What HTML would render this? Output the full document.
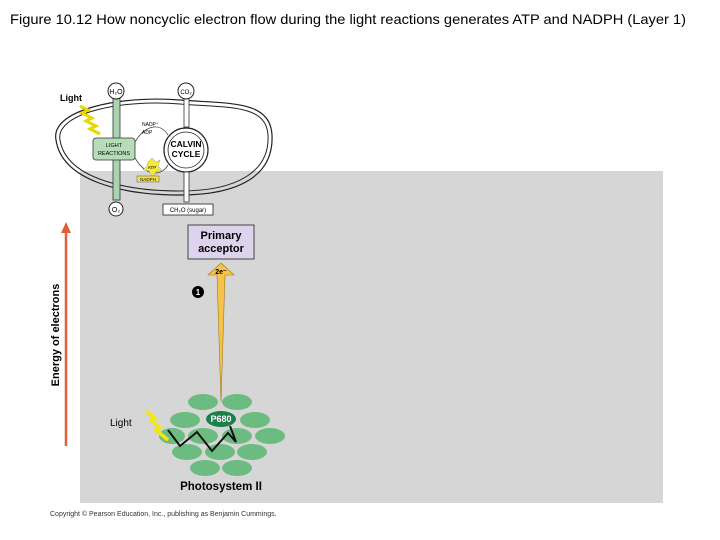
<!DOCTYPE html>
<html><head><meta charset="utf-8"><style>
html,body{margin:0;padding:0;background:#fff;}
svg{display:block;font-family:"Liberation Sans",sans-serif;}
</style></head><body>
<svg width="720" height="540" viewBox="0 0 720 540">
<text x="10" y="24" font-size="14" textLength="676" lengthAdjust="spacingAndGlyphs" fill="#000">Figure 10.12  How noncyclic electron flow during the light reactions generates ATP and NADPH (Layer 1)</text>
<rect x="80" y="171" width="583" height="332" fill="#d6d6d6"/>
<path d="M56,140 C50,110 120,95 180,100 C230,104 270,100 272,135 C274,175 240,195 180,195 C120,195 62,180 56,140 Z" fill="none" stroke="#222" stroke-width="1.2"/>
<path d="M60,140 C55,113 122,99 180,104 C228,108 266,104 268,135 C270,171 238,191 180,191 C122,191 66,177 60,140 Z" fill="none" stroke="#222" stroke-width="1"/>
<rect x="113" y="95" width="7" height="105" fill="#a8d5b0" stroke="#333" stroke-width="0.8"/>
<circle cx="116" cy="91" r="8" fill="#fff" stroke="#222"/>
<text x="116" y="94" font-size="7" text-anchor="middle">H₂O</text>
<circle cx="116" cy="209" r="7" fill="#fff" stroke="#222"/>
<text x="116" y="212" font-size="7" text-anchor="middle">O₂</text>
<rect x="93" y="138" width="42" height="22" rx="3" fill="#b6dcb8" stroke="#333" stroke-width="0.8"/>
<text x="114" y="147" font-size="5.5" text-anchor="middle">LIGHT</text>
<text x="114" y="155" font-size="5.5" text-anchor="middle">REACTIONS</text>
<text x="60" y="101" font-size="9" font-weight="bold">Light</text>
<polyline points="80,106 88,110 82,113 92,118 86,121 96,126 90,129 100,134" fill="none" stroke="#e8d800" stroke-width="3"/>
<circle cx="186" cy="150" r="22" fill="#fff" stroke="#222" stroke-width="1.2"/>
<circle cx="186" cy="150" r="18" fill="none" stroke="#222" stroke-width="0.8"/>
<text x="186" y="147" font-size="8.5" font-weight="bold" text-anchor="middle">CALVIN</text>
<text x="186" y="157" font-size="8.5" font-weight="bold" text-anchor="middle">CYCLE</text>
<rect x="184" y="97" width="5" height="30" fill="#fff" stroke="#333" stroke-width="0.8"/>
<rect x="184" y="172" width="5" height="30" fill="#fff" stroke="#333" stroke-width="0.8"/>
<circle cx="186" cy="91" r="8" fill="#fff" stroke="#222"/>
<text x="186" y="94" font-size="6" text-anchor="middle">CO₂</text>
<rect x="163" y="204" width="50" height="11" fill="#fff" stroke="#222" stroke-width="0.8"/>
<text x="188" y="212" font-size="6" text-anchor="middle">CH₂O (sugar)</text>
<path d="M135,142 C145,125 160,122 168,135" fill="none" stroke="#444" stroke-width="0.8"/>
<path d="M135,158 C145,175 160,178 168,165" fill="none" stroke="#444" stroke-width="0.8"/>
<text x="142" y="126" font-size="5">NADP⁺</text>
<text x="142" y="134" font-size="5">ADP</text>
<polygon points="148,162 152,158 156,162 160,160 158,166 162,170 156,172 152,177 149,171 143,170 147,166" fill="#f2ea3a" stroke="#999" stroke-width="0.5"/>
<text x="152" y="169" font-size="4.5" text-anchor="middle">ATP</text>
<rect x="137" y="176" width="22" height="6" fill="#f4e04a" stroke="#555" stroke-width="0.5"/>
<text x="148" y="181" font-size="4.5" text-anchor="middle">NADPH</text>
<line x1="66" y1="446" x2="66" y2="232" stroke="#e0603a" stroke-width="2.5"/>
<polygon points="61,233 71,233 66,222" fill="#e0603a"/>
<text transform="translate(59,335) rotate(-90)" font-size="11" font-weight="bold" text-anchor="middle">Energy of electrons</text>
<rect x="188" y="225" width="66" height="34" fill="#ddd3ec" stroke="#444" stroke-width="1"/>
<text x="221" y="239" font-size="11" font-weight="bold" text-anchor="middle">Primary</text>
<text x="221" y="252" font-size="11" font-weight="bold" text-anchor="middle">acceptor</text>
<polygon points="221,263 234,275 225,275 221,402 217,275 208,275" fill="#f6c24a" stroke="#a07a20" stroke-width="0.6"/>
<text x="221" y="274" font-size="7" font-weight="bold" text-anchor="middle">2e⁻</text>
<circle cx="198" cy="292" r="6" fill="#000"/>
<text x="198" y="295" font-size="8" font-weight="bold" fill="#fff" text-anchor="middle">1</text>
<g fill="#6cbc82">
<ellipse cx="203" cy="402" rx="15" ry="8"/><ellipse cx="237" cy="402" rx="15" ry="8"/>
<ellipse cx="185" cy="420" rx="15" ry="8"/><ellipse cx="255" cy="420" rx="15" ry="8"/>
<ellipse cx="172" cy="436" rx="13" ry="8"/><ellipse cx="203" cy="436" rx="15" ry="8"/><ellipse cx="237" cy="436" rx="15" ry="8"/><ellipse cx="270" cy="436" rx="15" ry="8"/>
<ellipse cx="187" cy="452" rx="15" ry="8"/><ellipse cx="220" cy="452" rx="15" ry="8"/><ellipse cx="252" cy="452" rx="15" ry="8"/>
<ellipse cx="205" cy="468" rx="15" ry="8"/><ellipse cx="237" cy="468" rx="15" ry="8"/>
</g>
<ellipse cx="221" cy="419" rx="15" ry="8" fill="#1e7f4a"/>
<text x="221" y="422" font-size="9" font-weight="bold" fill="#fff" text-anchor="middle">P680</text>
<polyline points="168,430 180,446 197,432 212,451 228,433 236,442 230,426" fill="none" stroke="#111" stroke-width="2"/>
<polyline points="146,411 155,418 151,420 160,428 156,430 168,440" fill="none" stroke="#f2e810" stroke-width="3.5"/>
<text x="110" y="426" font-size="10">Light</text>
<text x="221" y="490" font-size="11.5" font-weight="bold" text-anchor="middle">Photosystem II</text>
<text x="50" y="516" font-size="7" fill="#333">Copyright © Pearson Education, Inc., publishing as Benjamin Cummings.</text>
</svg>
</body></html>
